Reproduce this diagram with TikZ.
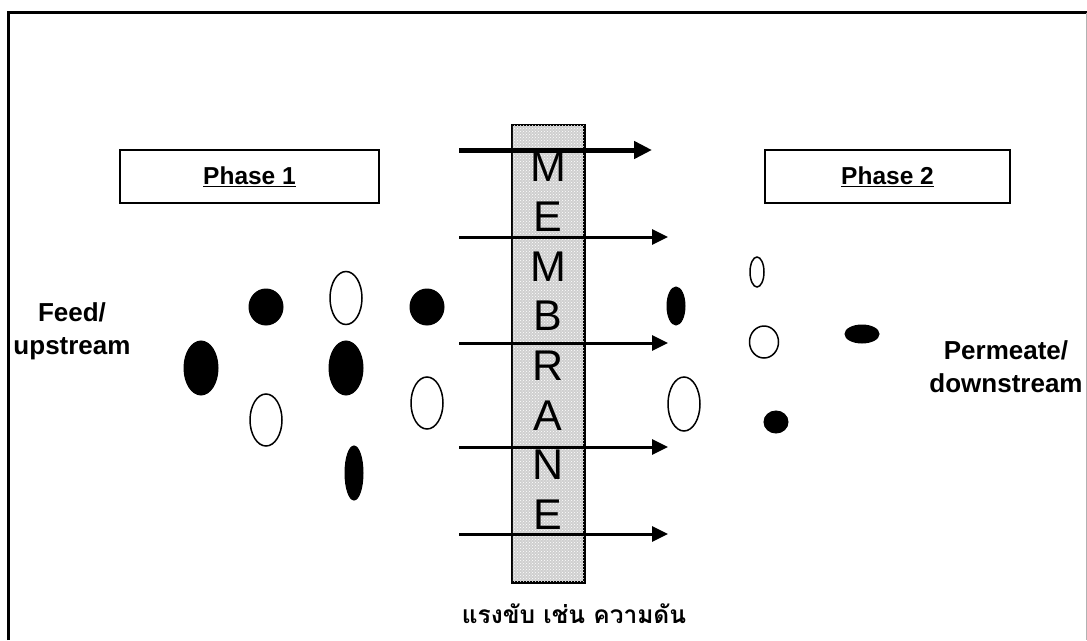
\documentclass[tikz,border=0pt]{standalone}
\usepackage{fontspec}
\setmainfont{Liberation Sans}
\newfontfamily\thaifont[Script=Thai]{Loma}
\usetikzlibrary{arrows.meta,patterns,shapes.geometric}
\begin{document}
\begin{tikzpicture}[x=1pt,y=-1pt,
  phasebox/.style={draw,line width=1.4pt,minimum width=259pt,minimum height=53pt,inner sep=0pt,font=\fontsize{24.5}{28}\selectfont\bfseries},
  sidelabel/.style={align=center,font=\fontsize{26}{33}\selectfont\bfseries,inner sep=0pt},
  memletter/.style={font=\fontsize{43}{43}\selectfont,inner sep=0pt},
  flowarrow/.style={line width=3pt,-{Triangle[length=16pt,width=15pt]}},
  bigarrow/.style={line width=5pt,-{Triangle[length=18pt,width=17pt]}},
  solidp/.style={ellipse,fill=black,draw=black,line width=1pt,inner sep=0pt},
  openp/.style={ellipse,fill=white,draw=black,line width=1.5pt,inner sep=0pt}]
\useasboundingbox (0,0) rectangle (1087,640);
\fill[white] (0,0) rectangle (1087,640);
% outer frame
\draw[line width=3pt] (8,640) -- (8,12.5) -- (1087,12.5);
\draw[gray!60,line width=1pt] (1086,12.5) -- (1086,640);
% membrane
\node[draw,line width=1.5pt,fill=gray!38,minimum width=72pt,minimum height=457pt,inner sep=0pt] (mem) at (548,353.5) {};
\fill[pattern=crosshatch dots,pattern color=white] (mem.north west) rectangle (mem.south east);
\draw[line width=1.5pt] (mem.north west) rectangle (mem.south east);
\foreach \L [count=\i from 0] in {M,E,M,B,R,A,N,E}{
  \node[memletter] (let\i) at (548,{167+49.7*\i}) {\L};
}
% arrows
\coordinate (a0s) at (459,150); \coordinate (a0e) at (652,150);
\coordinate (a1s) at (459,237); \coordinate (a1e) at (668,237);
\coordinate (a2s) at (459,343); \coordinate (a2e) at (668,343);
\coordinate (a3s) at (459,447); \coordinate (a3e) at (668,447);
\coordinate (a4s) at (459,534); \coordinate (a4e) at (668,534);
\draw[bigarrow] (a0s) -- (a0e);
\draw[flowarrow] (a1s) -- (a1e);
\draw[flowarrow] (a2s) -- (a2e);
\draw[flowarrow] (a3s) -- (a3e);
\draw[flowarrow] (a4s) -- (a4e);
% phase boxes
\node[phasebox] (ph1) at (249.5,176.5) {\underline{Phase 1}};
\node[phasebox,minimum width=245pt] (ph2) at (887.5,176.5) {\underline{Phase 2}};
% side labels
\node[sidelabel] (feed) at (72,331) {Feed/\\upstream};
\node[sidelabel] (perm) at (1006,367) {Permeate/\\downstream};
% left particles
\node[solidp,minimum width=34pt,minimum height=36pt] (p1) at (266,307) {};
\node[openp,minimum width=32pt,minimum height=53pt] (p2) at (346,298) {};
\node[solidp,minimum width=34pt,minimum height=36pt] (p3) at (427,307) {};
\node[solidp,minimum width=34pt,minimum height=54pt] (p4) at (201,368) {};
\node[solidp,minimum width=34pt,minimum height=54pt] (p5) at (346,368) {};
\node[openp,minimum width=32pt,minimum height=52pt] (p6) at (266,420) {};
\node[openp,minimum width=32pt,minimum height=52pt] (p7) at (427,403) {};
\node[solidp,minimum width=18pt,minimum height=54pt] (p8) at (354,473) {};
% right particles
\node[openp,minimum width=14pt,minimum height=30pt] (q1) at (757,272) {};
\node[solidp,minimum width=18pt,minimum height=38pt] (q2) at (676,306) {};
\node[openp,minimum width=29pt,minimum height=32pt] (q3) at (764,342) {};
\node[solidp,minimum width=34pt,minimum height=18pt] (q4) at (862,334) {};
\node[openp,minimum width=32pt,minimum height=54pt] (q5) at (684,404) {};
\node[solidp,minimum width=24pt,minimum height=22pt] (q6) at (776,422) {};
% caption
\node[font=\thaifont\bfseries\fontsize{24.5}{26}\selectfont,inner sep=0pt] (cap) at (574,614) {แรงขับ เช่น ความดัน};
\end{tikzpicture}
\end{document}
